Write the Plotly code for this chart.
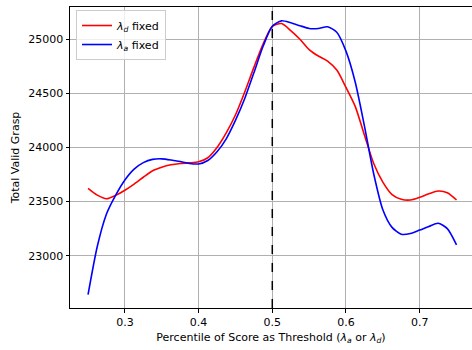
import plotly.graph_objects as go

# ---- data ----
percentile = [0.25, 0.2625, 0.275, 0.2875, 0.3, 0.3125, 0.325, 0.3375, 0.35, 0.3625,
              0.375, 0.3875, 0.4, 0.4125, 0.425, 0.4375, 0.45, 0.4625, 0.475, 0.4875,
              0.5, 0.5125, 0.525, 0.5375, 0.55, 0.5625, 0.575, 0.5875, 0.6, 0.6125,
              0.625, 0.6375, 0.65, 0.6625, 0.675, 0.6875, 0.7, 0.7125, 0.725, 0.7375, 0.75]

lambda_d_fixed = [23623, 23560, 23527, 23558, 23605, 23662, 23725, 23785, 23818, 23840,
                  23852, 23858, 23868, 23905, 24000, 24135, 24300, 24510, 24740, 24955,
                  25120, 25145, 25080, 25000, 24905, 24845, 24798, 24715, 24555, 24380,
                  24115, 23855, 23680, 23565, 23522, 23515, 23540, 23572, 23598, 23582, 23515]

lambda_a_fixed = [22640, 23085, 23385, 23560, 23700, 23800, 23860, 23890, 23895, 23885,
                  23870, 23852, 23848, 23880, 23960, 24080, 24250, 24450, 24690, 24935,
                  25120, 25170, 25152, 25125, 25100, 25100, 25115, 25065, 24890, 24605,
                  24200, 23760, 23425, 23262, 23198, 23205, 23237, 23270, 23300, 23250, 23100]

series_names = ["<i>λ</i><sub><i>d</i></sub> fixed", "<i>λ</i><sub><i>a</i></sub> fixed"]
series_colors = ["#ff0000", "#0000ff"]
threshold = 0.5

x_title = "Percentile of Score as Threshold (<i>λ</i><sub><i>a</i></sub> or <i>λ</i><sub><i>d</i></sub>)"
y_title = "Total Valid Grasp"
x_ticks = [0.3, 0.4, 0.5, 0.6, 0.7]
y_ticks = [23000, 23500, 24000, 24500, 25000]

FONT = "DejaVu Sans"

fig = go.Figure()
for name, vals, col in zip(series_names, [lambda_d_fixed, lambda_a_fixed], series_colors):
    fig.add_trace(go.Scatter(x=percentile, y=vals, mode="lines", name=name,
                             line=dict(color=col, width=1.6, shape="spline", smoothing=0.7)))

fig.add_vline(x=threshold, line=dict(color="black", width=1.5, dash="dash"))

axis_common = dict(showgrid=True, gridcolor="#b0b0b0", gridwidth=0.8,
                   showline=True, linecolor="black", linewidth=1,
                   ticks="outside", ticklen=3.5, tickcolor="black", tickwidth=0.8,
                   tickfont=dict(family=FONT, size=11, color="black"),
                   zeroline=False)

fig.update_layout(
    width=472, height=350,
    margin=dict(l=70, r=0, t=7, b=42),
    paper_bgcolor="white", plot_bgcolor="white",
    font=dict(family=FONT, size=11, color="black"),
    showlegend=True,
    legend=dict(x=0.015, y=0.99, xanchor="left", yanchor="top",
                bgcolor="rgba(255,255,255,0.8)", bordercolor="#cccccc", borderwidth=1,
                font=dict(family=FONT, size=11, color="black"),
                itemwidth=30, tracegroupgap=0),
    xaxis=dict(range=[0.2255, 0.771], tickvals=x_ticks, ticktext=[str(t) for t in x_ticks],
               mirror=True, title=dict(text=x_title, standoff=5,
                                       font=dict(family=FONT, size=11)),
               **axis_common),
    yaxis=dict(range=[22517, 25298], tickvals=y_ticks, ticktext=[str(t) for t in y_ticks],
               title=dict(text=y_title, standoff=6, font=dict(family=FONT, size=11)),
               **axis_common),
)

fig.write_html("out.html", config={"displayModeBar": False},
               post_script="document.body.style.margin='0';")
